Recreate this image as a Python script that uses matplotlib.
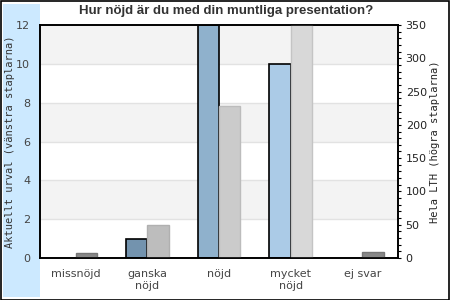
import matplotlib
matplotlib.use("Agg")
import matplotlib.pyplot as plt
from matplotlib.patches import Rectangle
from matplotlib.ticker import MultipleLocator
import numpy as np

# --- DATA ---
categories = ["missnöjd", "ganska\nnöjd", "nöjd", "mycket\nnöjd", "ej svar"]
urval_values = [0, 1, 12, 10, 0]          # left axis (Aktuellt urval)
lth_values = [8, 50, 228, 360, 9]         # right axis (Hela LTH)

urval_colors = ["#7393ae", "#7393ae", "#8fb1cc", "#abcbe7", "#abcbe7"]
lth_colors = ["#888888", "#bdbdbd", "#cbcbcb", "#d8d8d8", "#888888"]
lth_edges = ["#777777", "#b0b0b0", "#bcbcbc", "#c4c4c4", "#777777"]

W, H = 450, 300
fig = plt.figure(figsize=(4.5, 3), dpi=100)
fig.patch.set_facecolor("white")

# light blue side panel (behind axes) + outer frame
fig.patches.append(Rectangle((3 / W, 3 / H), 37 / W, 293 / H, transform=fig.transFigure,
                             facecolor="#cce9ff", edgecolor="none", zorder=-1))
fig.patches.append(Rectangle((0.5 / W, 0.5 / H), (W - 1.5) / W, (H - 1.5) / H,
                             transform=fig.transFigure, facecolor="none",
                             edgecolor="black", lw=1.2, zorder=5))

ax = fig.add_axes([40 / W, 42 / H, 358 / W, 233 / H])
ax.set_facecolor("white")
ax.set_ylim(0, 12)
ax.set_xlim(-0.5, len(categories) - 0.5)

# alternating bands + grid lines
for lo in (2, 6, 10):
    ax.axhspan(lo, lo + 2, color="#f3f3f3", zorder=0, lw=0)
for g in (2, 4, 6, 8, 10):
    ax.axhline(g, color="#e2e2e2", lw=1, zorder=0.5)

x = np.arange(len(categories))
bw = 0.3
for i, v in enumerate(urval_values):
    if v > 0:
        ax.bar(x[i] - bw / 2, v, bw, color=urval_colors[i], edgecolor="black",
               lw=1.2, zorder=2)

ax2 = ax.twinx()
ax2.set_ylim(0, 350)
for i, v in enumerate(lth_values):
    ax2.bar(x[i] + bw / 2, v, bw, color=lth_colors[i], edgecolor=lth_edges[i],
            lw=1, zorder=2)

# left axis styling
ax.set_yticks([0, 2, 4, 6, 8, 10, 12])
ax.tick_params(axis="y", length=0, pad=7, labelsize=8, labelcolor="#444444")
ax.set_xticks(x)
ax.set_xticklabels(categories, fontsize=8, color="#444444", linespacing=1.2)
ax.tick_params(axis="x", length=0, pad=8)
ax.set_ylabel("Aktuellt urval (vänstra staplarna)", family="DejaVu Sans Mono",
              fontsize=7.5, color="#333333")
ax.yaxis.set_label_coords(-25 / 358, 0.5)

# right axis styling
ax2.yaxis.set_major_locator(MultipleLocator(50))
ax2.yaxis.set_minor_locator(MultipleLocator(10))
ax2.tick_params(axis="y", which="major", length=2.5, width=0.8, pad=3, labelsize=8,
                labelcolor="#222222")
ax2.tick_params(axis="y", which="minor", length=2.5, width=0.8)
ax2.set_ylabel("Hela LTH (högra staplarna)", family="DejaVu Sans Mono",
               fontsize=7.5, color="#222222")
ax2.yaxis.set_label_coords(1 + 32 / 358, 0.5)

for a in (ax, ax2):
    for s in a.spines.values():
        s.set_linewidth(1.2)
        s.set_color("black")

fig.text(0.502, 1 - 11 / H, "Hur nöjd är du med din muntliga presentation?",
         ha="center", va="center", fontsize=9.5, fontweight="bold",
         family="Liberation Sans", color="#333333")

fig.savefig("out.png", dpi=100)
